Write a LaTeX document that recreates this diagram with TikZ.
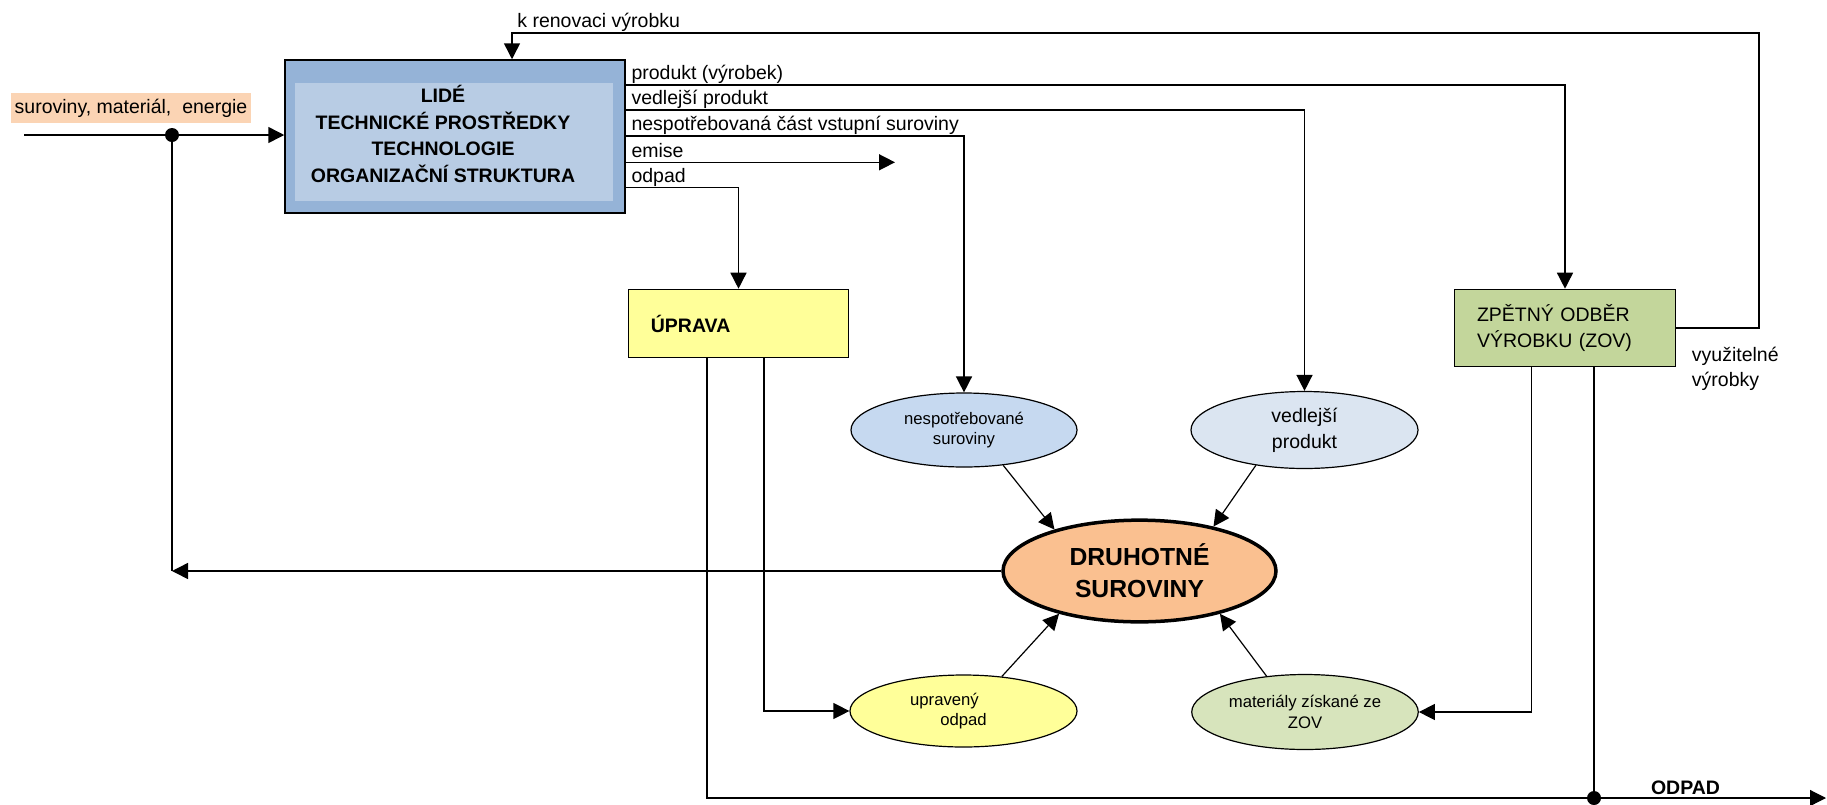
\documentclass[tikz,border=0pt]{standalone}
\usepackage{fontspec}
\setmainfont{Liberation Sans}
\usetikzlibrary{arrows.meta,shapes.geometric}
\definecolor{boxblue}{HTML}{95B3D7}
\definecolor{paneblue}{HTML}{B8CCE4}
\definecolor{peach}{HTML}{FBD4B4}
\definecolor{paleyellow}{HTML}{FFFF99}
\definecolor{olive}{HTML}{C3D69B}
\definecolor{skyblue}{HTML}{C6D9F0}
\definecolor{mistblue}{HTML}{DBE5F1}
\definecolor{sage}{HTML}{D7E4BC}
\definecolor{apricot}{HTML}{FAC090}

\begin{document}
\fontsize{9.75}{12.4}\selectfont
\begin{tikzpicture}[x=0.5pt,y=-0.5pt,
  procbox/.style={draw,line width=0.75pt,fill=boxblue,minimum width=170pt,
                  minimum height=76.5pt,inner sep=0pt},
  panel/.style={fill=paneblue,minimum width=159.2pt,minimum height=59.2pt,inner sep=0pt},
  stepbox/.style={draw,line width=0.6pt,align=left,inner xsep=11.2pt,inner ysep=0pt,
                  minimum height=34.2pt},
  oval/.style={ellipse,draw,line width=0.6pt,inner sep=0pt,align=center,
               font=\fontsize{8.35}{10.3}\selectfont},
  core/.style={ellipse,draw,line width=1.75pt,fill=apricot,minimum width=136.5pt,
               minimum height=50.85pt,inner sep=0pt,align=center,
               font=\bfseries\fontsize{12.35}{16}\selectfont},
  lbl/.style={anchor=base west,inner sep=0pt,xshift=2.5pt,yshift=2.6pt},
  ln/.style={line width=0.75pt},
  thinln/.style={line width=0.6pt},
  arr/.style={-{Triangle[length=8pt,width=8pt]},line width=0.75pt}]
  \useasboundingbox (0,0) rectangle (1827,804);
  \node[procbox] (lide) at (455,136.5) {};
  \node[panel] (pane) at (453.8,141.8) {};
  \node[align=center,font=\bfseries\fontsize{9.75}{13.2}\selectfont] (lidetxt) at (443,134)
    {LIDÉ\\TECHNICKÉ PROSTŘEDKY\\TECHNOLOGIE\\ORGANIZAČNÍ STRUKTURA};
  \node[fill=peach,minimum width=120pt,minimum height=15pt,inner xsep=0.5pt,inner ysep=0pt]
    (src) at (131,108) {suroviny, materiál,\ \ energie};
  \node[stepbox,fill=paleyellow,text width=87.6pt,font=\bfseries] (uprava) at (738.5,323.5) {ÚPRAVA};
  \node[stepbox,fill=olive,text width=88pt,minimum height=38.7pt,inner xsep=11.35pt,
        font=\fontsize{9.75}{13}\selectfont] (zov) at (1565,328) {ZPĚTNÝ ODBĚR\\VÝROBKU (ZOV)};
  \node[oval,fill=skyblue,minimum width=113pt,minimum height=37pt] (nesp) at (964,430)
    {nespotřebované\\suroviny};
  \node[oval,fill=mistblue,minimum width=113.5pt,minimum height=38.5pt,
        font=\fontsize{9.75}{13}\selectfont] (vedl) at (1304.5,430) {vedlejší\\produkt};
  \node[core] (druh) at (1139.5,571) {DRUHOTNÉ\\SUROVINY};
  \node[oval,fill=paleyellow,minimum width=113.5pt,minimum height=36pt] (uprav) at (963.5,711)
    {upravený\hspace*{19pt}\\odpad};
  \node[oval,fill=sage,minimum width=113.25pt,minimum height=37.5pt] (mat) at (1305,712)
    {materiály získané ze\\ZOV};
  \node[anchor=west,align=left,font=\fontsize{9.75}{12.5}\selectfont] (vyuz) at (1685,368.5)
    {využitelné\\výrobky};
  \node[font=\bfseries] (odpl) at (1685.5,788) {ODPAD};
  \coordinate (in) at (24,135);
  \coordinate (jin) at (172,135);
  \coordinate (ren) at (512,33);
  \coordinate (turn) at (1759,33);
  \coordinate (emis) at (895,162.3);
  \coordinate (out) at (1826,798);
  \coordinate (jout) at (1594,798);
  \node[lbl] (renov) at (ren) {k renovaci výrobku};
  \draw[arr] (in) -- (lide.west |- in);
  \draw[ln] (jin) -- (druh.west -| jin);
  \draw[arr] (druh.west) -- (druh.west -| jin);
  \fill (jin) circle (3.5pt);
  \draw[arr] (zov.east) -| (turn) -- (ren) -- (lide.north -| ren);
  \foreach \y/\t/\n in {85/produkt (výrobek)/zov,110/vedlejší produkt/vedl,
                        136/nespotřebovaná část vstupní suroviny/nesp,187.3/odpad/uprava}
    \draw[arr] (lide.east |- 0,\y) node[lbl] (l\n) {\t} -| (\n.north);
  \draw[arr] (lide.east |- emis) node[lbl] (lemis) {emise} -- (emis);
  \draw[arr,thinln] (uprava.south -| 707,0) |- (out);
  \draw[arr,thinln] (uprava.south -| 764,0) |- (uprav.west);
  \draw[arr,thinln] (zov.south -| 1531.5,0) |- (mat.east);
  \draw[thinln] (zov.south -| jout) -- (jout);
  \fill (jout) circle (3.5pt);
  \draw[arr,thinln] (nesp.-42) -- (druh.154);
  \draw[arr,thinln] (vedl.216) -- (druh.31);
  \draw[arr,thinln] (uprav.42) -- (druh.208);
  \draw[arr,thinln] (mat.137) -- (druh.332);
\end{tikzpicture}
\end{document}
